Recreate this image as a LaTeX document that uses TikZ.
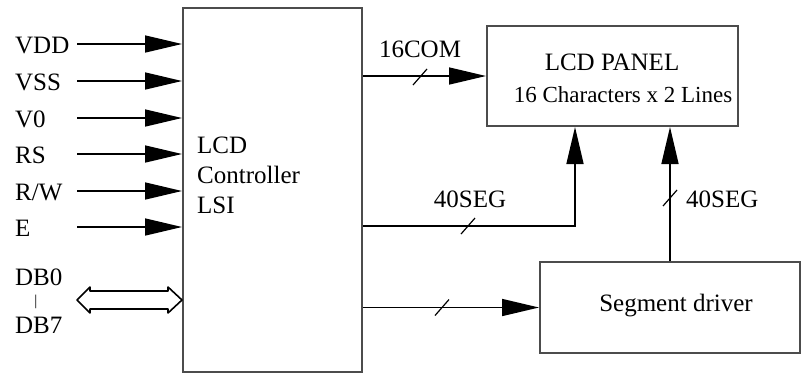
\documentclass[tikz,border=0pt]{standalone}
\usepackage{fontspec}
\setmainfont{Liberation Serif}
\usetikzlibrary{arrows.meta,calc}
\begin{document}
\begin{tikzpicture}[x=1pt,y=-1pt,
   box/.style={draw=black!70, line width=2pt, inner sep=0pt},
   sig/.style={line width=1.6pt, -{Triangle[length=37pt,width=17pt]}},
   wire/.style={line width=1.6pt},
   busmark/.style={line width=1.2pt},
   lbl/.style={font=\fontsize{25}{30}\selectfont, inner sep=0pt}]
  \useasboundingbox (0,0) rectangle (802,376);
  % blocks
  \node[box, minimum width=179pt, minimum height=364pt] (ctrl) at (272.5,190) {};
  \node[box, minimum width=251pt, minimum height=100pt] (panel) at (612.5,76) {};
  \node[box, minimum width=260pt, minimum height=91pt] (seg) at (670,307.5) {};
  \node[lbl, anchor=west, align=left] (ctrltxt) at (197,175) {LCD\\Controller\\LSI};
  \node[lbl] (paneltitle) at (612,62) {LCD PANEL};
  \node[lbl, font=\fontsize{23}{28}\selectfont] (panelsub) at (623,95) {16 Characters x 2 Lines};
  \node[lbl] (segtxt) at (676,306) {Segment driver};

  % control inputs
  \foreach \i/\y/\t in {1/44/VDD,2/81/VSS,3/118/V0,4/154/RS,5/191/{R/W},6/227/E} {
    \node[lbl, anchor=base west] (in\i) at (15,{\y+9}) {\t};
    \coordinate (src\i) at (77,\y);
    \draw[sig] (src\i) -- (src\i -| ctrl.west);
  }

  % data bus
  \node[lbl, anchor=base west] (db0) at (15,285) {DB0};
  \node[lbl, anchor=base west] (db7) at (15,333) {DB7};
  \node[inner sep=0pt, font=\fontsize{15}{15}\selectfont] (dbbar) at (36,302) {|};
  \coordinate (busl) at (77,300);
  \coordinate (busr) at (busl -| ctrl.west);
  \draw[wire, fill=white, line join=round] (busl) -- ++(13,-13) -- ++(0,4)
    -- ($(busr)+(-14,-9)$) -- ++(0,-4) -- (busr) -- ++(-14,13) -- ++(0,-4)
    -- ($(busl)+(13,9)$) -- ++(0,4) -- cycle;

  % outputs
  \coordinate (segbend) at (575,226);
  \draw[sig] (ctrl.east |- panel.west) -- (panel.west);
  \draw[sig] (ctrl.east |- segbend) -- (segbend) -- (segbend |- panel.south);
  \draw[sig] (ctrl.east |- seg.west) -- (seg.west);
  \draw[sig] (seg.north) -- (seg.north |- panel.south);

  % bus width marks
  \coordinate (mk1) at (420,77);
  \coordinate (mk2) at (468,226);
  \coordinate (mk3) at (442,307.5);
  \coordinate (mk4) at (670,198);
  \foreach \m in {mk1,mk2,mk3,mk4}
    \draw[busmark] ($(\m)+(-7,8)$) -- ($(\m)+(7,-8)$);

  \node[lbl] (comlbl) at (420,49) {16COM};
  \node[lbl] (seglbl) at (470,199) {40SEG};
  \node[lbl, anchor=west] (drvlbl) at (686,199) {40SEG};
\end{tikzpicture}
\end{document}
